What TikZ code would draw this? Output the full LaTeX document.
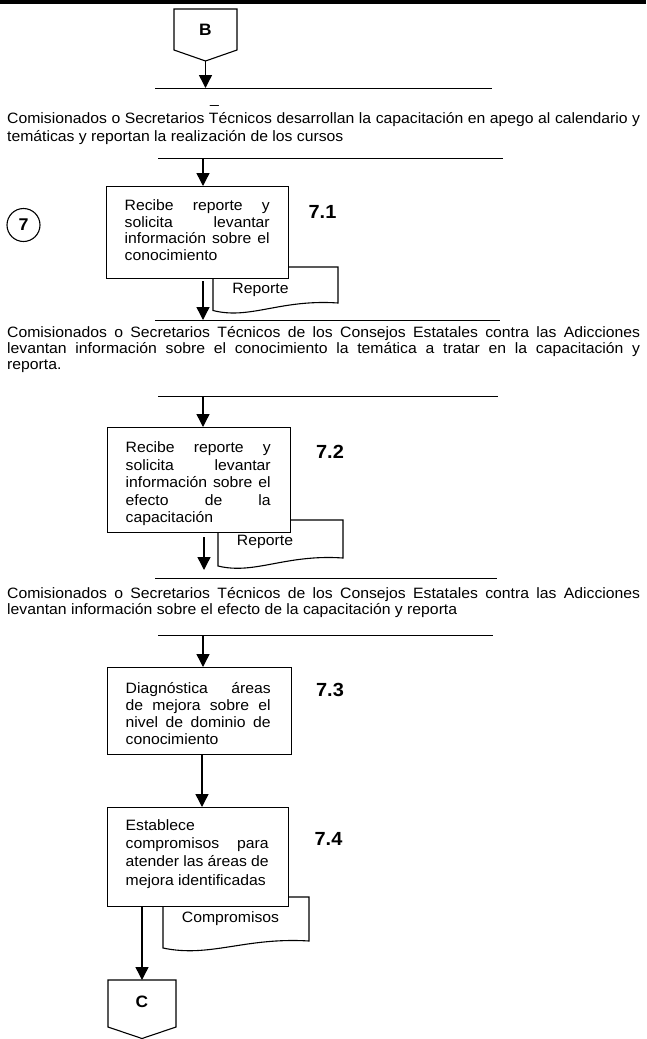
\documentclass[tikz,border=0pt]{standalone}
\usepackage{fontspec}
\setmainfont{Liberation Sans}[FakeStretch=1.05]
\usetikzlibrary{arrows.meta,shapes.geometric}
\newcommand\jline[2]{\makebox[#1][s]{#2}}
\begin{document}
\begin{tikzpicture}[x=1pt,y=-1pt,
  txt/.style={inner sep=0pt, anchor=base west, font=\fontsize{15}{17}\selectfont},
  ctxt/.style={inner sep=0pt, anchor=base, font=\fontsize{15}{17}\selectfont},
  lbl/.style={inner sep=0pt, font=\bfseries\fontsize{19}{21}\selectfont},
  conlbl/.style={inner sep=0pt, font=\bfseries\fontsize{16.5}{18}\selectfont},
  boxst/.style={draw, line width=1.1pt, fill=white, anchor=north west, inner sep=0pt},
  shp/.style={draw, line width=1.1pt, fill=white},
  rule/.style={line width=0.9pt},
  arr/.style={line width=1.4pt, -{Triangle[length=13pt,width=13pt]}}]
\useasboundingbox (0,0) rectangle (646,1039);
\fill (0,0) rectangle (646,3.5);

% ---- connector B
\draw[shp] (174,9) -- (237,9) -- (237,50) -- (205.5,61) -- (174,50) -- cycle;
\node[conlbl] (B) at (205.5,30) {B};
\coordinate (Bt) at (205.5,61);
\coordinate (l1a) at (155,88); \coordinate (l1b) at (492,88); \coordinate (l1m) at (205.5,88);
\draw[rule] (l1a) -- (l1b);
\draw[arr] (Bt) -- (l1m);
\node[txt] (us) at (210,103) {\_};

% ---- paragraph 1
\node[txt] (p1a) at (7,123) {\jline{633pt}{Comisionados o Secretarios Técnicos desarrollan la capacitación en apego al calendario y}};
\node[txt] (p1b) at (7,141) {temáticas y reportan la realización de los cursos};
\coordinate (l2a) at (158,158); \coordinate (l2b) at (503,158); \coordinate (l2m) at (203,158);
\draw[rule] (l2a) -- (l2b);

% ---- circle 7
\node[draw, ellipse, line width=1.1pt, minimum width=33pt, minimum height=33pt, inner sep=0pt, font=\bfseries\fontsize{17}{19}\selectfont] (c7) at (23.5,225) {7};

% ---- step 7.1
\draw[shp] (213,267) -- (338,267) -- (338,303) .. controls (280,299) and (250,320) .. (213,310.5) -- cycle;
\node[ctxt] (rep1) at (260.5,293) {Reporte};
\node[boxst, minimum width=182pt, minimum height=92pt] (b71) at (106,186) {};
\draw[arr] (l2m) -- (b71.north -| l2m);
\node[txt] (t711) at (124.5,210) {\jline{145pt}{Recibe reporte y}};
\node[txt] (t712) at (124.5,227) {\jline{145pt}{solicita levantar}};
\node[txt] (t713) at (124.5,243.5) {\jline{145pt}{información sobre el}};
\node[txt] (t714) at (124.5,260) {conocimiento};
\node[lbl] (n71) at (322.5,212) {7.1};
\coordinate (a1s) at (203,281); \coordinate (l3m) at (203,320);
\coordinate (l3a) at (155,320); \coordinate (l3b) at (500,320);
\draw[rule] (l3a) -- (l3b);
\draw[arr] (a1s) -- (l3m);

% ---- paragraph 2
\node[txt] (p2a) at (7,337) {\jline{633pt}{Comisionados o Secretarios Técnicos de los Consejos Estatales contra las Adicciones}};
\node[txt] (p2b) at (7,353) {\jline{633pt}{levantan información sobre el conocimiento la temática a tratar en la capacitación y}};
\node[txt] (p2c) at (7,369) {reporta.};
\coordinate (l4a) at (158,396); \coordinate (l4b) at (498,396); \coordinate (l4m) at (203,396);
\draw[rule] (l4a) -- (l4b);

% ---- step 7.2
\draw[shp] (218,520) -- (343,520) -- (343,558) .. controls (285,554) and (255,575) .. (218,566) -- cycle;
\node[ctxt] (rep2) at (265,545) {Reporte};
\node[boxst, minimum width=183pt, minimum height=105pt] (b72) at (107,427) {};
\draw[arr] (l4m) -- (b72.north -| l4m);
\node[txt] (t721) at (125.5,452.5) {\jline{145pt}{Recibe reporte y}};
\node[txt] (t722) at (125.5,470) {\jline{145pt}{solicita levantar}};
\node[txt] (t723) at (125.5,487.5) {\jline{145pt}{información sobre el}};
\node[txt] (t724) at (125.5,505) {\jline{145pt}{efecto de la}};
\node[txt] (t725) at (125.5,522.5) {capacitación};
\node[lbl] (n72) at (330,452) {7.2};
\coordinate (a2s) at (204,537); \coordinate (a2e) at (204,570);
\draw[arr] (a2s) -- (a2e);
\coordinate (l5a) at (155,578); \coordinate (l5b) at (497,578);
\draw[rule] (l5a) -- (l5b);

% ---- paragraph 3
\node[txt] (p3a) at (7,598) {\jline{633pt}{Comisionados o Secretarios Técnicos de los Consejos Estatales contra las Adicciones}};
\node[txt] (p3b) at (7,614) {levantan información sobre el efecto de la capacitación y reporta};
\coordinate (l6a) at (158,635); \coordinate (l6b) at (493,635); \coordinate (l6m) at (203,635);
\draw[rule] (l6a) -- (l6b);

% ---- step 7.3
\node[boxst, minimum width=184pt, minimum height=87pt] (b73) at (107,667) {};
\draw[arr] (l6m) -- (b73.north -| l6m);
\node[txt] (t731) at (125.5,693) {\jline{145pt}{Diagnóstica áreas}};
\node[txt] (t732) at (125.5,710) {\jline{145pt}{de mejora sobre el}};
\node[txt] (t733) at (125.5,727) {\jline{145pt}{nivel de dominio de}};
\node[txt] (t734) at (125.5,744) {conocimiento};
\node[lbl] (n73) at (330,690) {7.3};

% ---- step 7.4
\draw[shp] (163,897) -- (309,897) -- (309,941) .. controls (245,937) and (210,958) .. (163,948) -- cycle;
\node[ctxt] (comp) at (230.5,922) {Compromisos};
\node[boxst, minimum width=181pt, minimum height=99pt] (b74) at (107,807) {};
\draw[arr] (b73.south -| 202,0) -- (b74.north -| 202,0);
\node[txt] (t741) at (125.5,830) {Establece};
\node[txt] (t742) at (125.5,848) {\jline{143pt}{compromisos para}};
\node[txt] (t743) at (125.5,866.5) {\jline{143pt}{atender las áreas de}};
\node[txt] (t744) at (125.5,885) {mejora identificadas};
\node[lbl] (n74) at (328.5,839) {7.4};

% ---- connector C
\draw[shp] (108,980) -- (176,980) -- (176,1027) -- (142,1038.5) -- (108,1027) -- cycle;
\node[conlbl] (C) at (142,1002) {C};
\coordinate (Ct) at (142,980);
\draw[arr] (b74.south -| Ct) -- (Ct);
\end{tikzpicture}
\end{document}
